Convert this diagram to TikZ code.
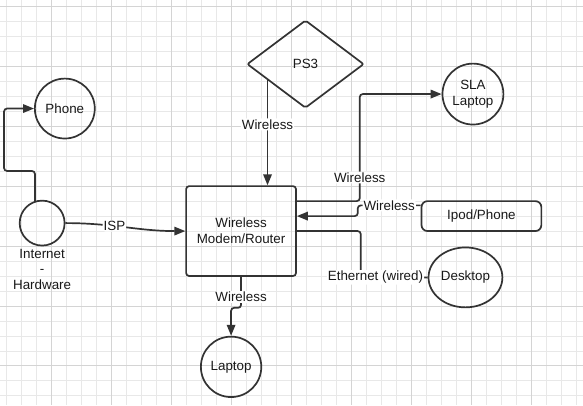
\documentclass[tikz,border=0pt]{standalone}
\usepackage{fontspec}
\setmainfont{Liberation Sans}
\usetikzlibrary{positioning,shapes.geometric,arrows.meta,calc}

\begin{document}
\begin{tikzpicture}[
		x=1pt, y=1pt,
		> = {Triangle[length=11pt,width=8.5pt]},
		every node/.style={font=\fontsize{13.4}{16}\selectfont,text=black!90},
		device/.style={draw=black!80,circle,line width=1.7pt,inner sep=0pt,align=center},
		hub/.style={draw=black!80,rectangle,rounded corners=3pt,line width=1.7pt,inner sep=0pt,align=center},
		lbl/.style={fill=white,inner sep=1pt},
		link/.style={draw=black!80,line width=1.7pt,rounded corners=3pt},
		gridminor/.style={draw=black!9,line width=0.8pt},
		gridmajor/.style={draw=black!17,line width=0.8pt}
		]
		% background grid
		\fill[white] (0,0) rectangle (583,-405);
		\draw[gridminor,step=15,shift={(6.5,-6)}] (-6.5,6) grid (576.5,-399);
		\draw[gridmajor,step=60,shift={(51.5,-6)}] (-51.5,6) grid (531.5,-399);
		\useasboundingbox (0,0) rectangle (583,-405);
		
		\node[hub,minimum width=110pt,minimum height=90pt] at (241,-231) (router) {Wireless\\Modem/Router};
		\node[draw=black!80,diamond,line width=1.7pt,inner sep=0pt,minimum width=117pt,minimum height=88pt,rounded corners=2pt,above=76.5pt of router,xshift=64.5pt] (ps3) {PS3};
		\node[device,minimum size=45pt,left=120pt of router,yshift=8pt] (inet) {};
		\node[below=2.3pt of inet,align=center,inner sep=0pt,font=\fontsize{13.4}{15.5}\selectfont] (inetlbl) {Internet\\-\\Hardware};
		\node[device,minimum size=60pt,above=60.5pt of inet,xshift=22.7pt] (phone) {Phone};
		\node[device,minimum size=61pt,right=77pt of ps3,yshift=-30pt] (sla) {SLA\\Laptop};
		\node[hub,minimum width=120pt,minimum height=30pt,rounded corners=6pt,right=124pt of router,yshift=15pt] (ipod) {Ipod/Phone};
		\node[draw=black!80,ellipse,line width=1.7pt,inner sep=0pt,minimum width=74pt,minimum height=60pt,below=14.7pt of ipod,xshift=-16pt] (desktop) {Desktop};
		\node[device,minimum size=60.5pt,below=59pt of router,xshift=-10pt] (laptop) {Laptop};
		
		% connections
		\draw[link,->] (inet.108) -- ++(0,30) -| ($(phone.west)+(-30,0)$) -- (phone.west);
		\draw[link,->] (inet.east) to[out=0,in=180] node[lbl,pos=0.4]{ISP} (router.west);
		\draw[link,->] (ps3.203) -- node[lbl,pos=0.42]{Wireless} (ps3.203 |- router.north);
		\draw[link,->] ([yshift=30pt]router.east) -- ++(63,0) |- node[lbl,pos=0.11]{Wireless} (sla.west);
		\draw[link,->] (ipod.170) -- node[lbl]{Wireless} ++(-63,0) |- ([yshift=15pt]router.east);
		\draw[link] (router.east) -- ++(64,0) |- node[lbl,pos=0.61]{Ethernet (wired)} (desktop.west);
		\draw[link,->] (router.south) -- node[lbl,pos=0.65]{Wireless} ++(0,-31) -| (laptop.north);
	\end{tikzpicture}
\end{document}
